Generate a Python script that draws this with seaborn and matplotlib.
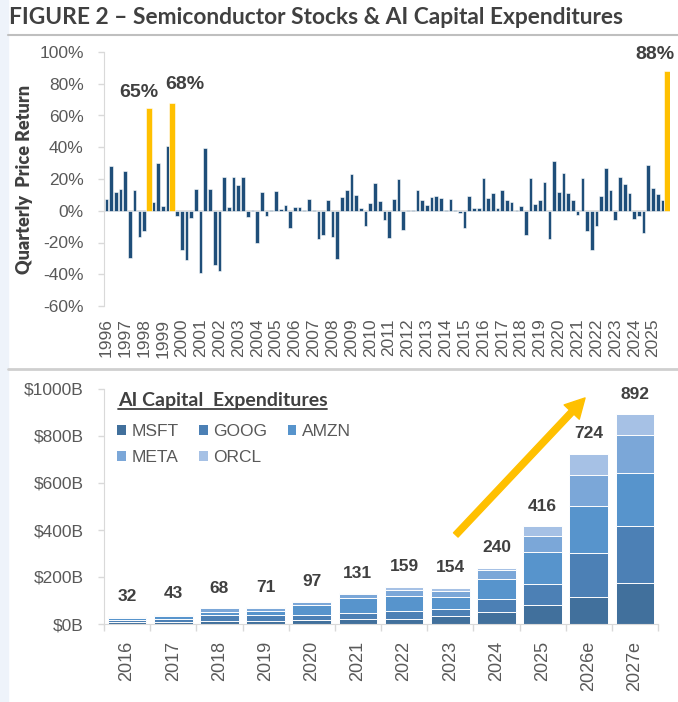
import numpy as np
import pandas as pd
import matplotlib
matplotlib.use("Agg")
import matplotlib.pyplot as plt
import seaborn as sns
from matplotlib.patches import Patch, Rectangle
from matplotlib.lines import Line2D

# ---------------- data ----------------
years = list(range(1996, 2026))
quarter_returns = [
    7.2, 28, 12, 13.7, 25, -30, 13, -16.5, -12.7, 65,
    5.7, 30, 3, 41, 68, -3, -25, -31, -4.6, 14,
    -39, 39.5, 13.7, -34, -38, 21, 2.5, 21, 16.5, 21,
    -3.8, 0.3, -20.5, 12, -3.4, 0.5, 12.7, 1, 3.8, -11,
    2.5, 2.5, 0.2, 7.4, 0.2, -18, -15, 6.8, -16.5, -30.6,
    8.4, 13.3, 23, 10, 1.5, -9.3, 4.6, 17.3, 6, -6,
    -17, 7.4, 20, -12, 0.2, 0.3, 13.3, 6.5, 3.8, 8.4,
    9.3, 7.8, 0.2, 7.4, 0.6, -1.7, -11, 9.3, 1.5, 2,
    20.5, 7.8, 11.4, 2, 12.9, 6.5, 5.3, 0.2, 3.2, -15,
    20.5, 4, 6.8, 18, -18, 31.6, 12, 24, 11.2, 6.5,
    -2.5, 20.5, -12.7, -25, -9.3, 9, 27, 13.3, -6, 21,
    17, 11.2, -5.3, -3.4, -14, 29, 14.6, 10.5, 6.5, 88,
]
highlight_quarters = ["1998Q2", "1999Q3", "2025Q4"]
highlight_labels = ["65%", "68%", "88%"]

capex_years = ["2016", "2017", "2018", "2019", "2020", "2021",
               "2022", "2023", "2024", "2025", "2026e", "2027e"]
companies = ["MSFT", "GOOG", "AMZN", "META", "ORCL"]
msft = [8, 8, 12, 14, 16, 20, 21, 32, 53, 82, 114, 174]
goog = [10, 13, 25, 23, 22, 27, 33, 32, 53, 89, 190, 242]
amzn = [8, 12, 14, 17, 42, 62, 64, 52, 86, 134, 200, 225]
meta = [5, 7, 15, 15, 15, 19, 28, 26, 37, 71, 132, 163]
orcl = [1, 3, 2, 2, 2, 3, 13, 12, 11, 40, 88, 88]
capex_totals = [32, 43, 68, 71, 97, 131, 159, 154, 240, 416, 724, 892]

company_colors = {"MSFT": "#41709C", "GOOG": "#4C80B5", "AMZN": "#5794CC",
                  "META": "#7BA7D8", "ORCL": "#A6C1E5"}

# ---------------- style ----------------
sns.set_style("white")
plt.rcParams["font.family"] = ["Liberation Sans", "DejaVu Sans"]
GRAY_TXT = "#595959"
DARK_TXT = "#404040"
AXIS_GRAY = "#D9D9D9"

fig = plt.figure(figsize=(6.78, 7.02), dpi=100)
W, H = 678, 702

# background decorations
fig.patches.append(Rectangle((0, 0), 8 / W, 1, transform=fig.transFigure,
                             color="#EEF3FA", zorder=0))
fig.lines.append(Line2D([8 / W, 1], [1 - 35 / H, 1 - 35 / H], transform=fig.transFigure,
                        color="#BFBFBF", lw=1.5))
fig.lines.append(Line2D([8 / W, 1], [1 - 369 / H, 1 - 369 / H], transform=fig.transFigure,
                        color="#CFCFCF", lw=2))

fig.text(9 / W, 1 - 18 / H, "FIGURE 2 \u2013 Semiconductor Stocks & AI Capital Expenditures",
         family=["Lato", "DejaVu Sans"], fontweight="bold", fontsize=16.4,
         color=DARK_TXT, va="center", ha="left")

# ---------------- top chart ----------------
ax1 = fig.add_axes([104 / W, 1 - 306 / H, (670 - 104) / W, (306 - 52) / H])
quarters = [f"{y}Q{q}" for y in years for q in range(1, 5)]
df = pd.DataFrame({"quarter": quarters, "ret": quarter_returns})
is_hl = df["quarter"].isin(highlight_quarters)

sns.barplot(data=df[~is_hl], x="quarter", y="ret", order=quarters, color="#1F4E79",
            saturation=1, width=0.78, edgecolor="white", linewidth=0.4,
            errorbar=None, ax=ax1)
sns.barplot(data=df[is_hl], x="quarter", y="ret", order=quarters, color="#FFC000",
            saturation=1, width=1.25, edgecolor="white", linewidth=0.4,
            errorbar=None, ax=ax1)

ax1.axhline(0, color=AXIS_GRAY, lw=1.2, zorder=0.5)
ax1.set_xlim(-0.5, 119.6)
ax1.set_ylim(-60, 100)
ax1.set_yticks(range(-60, 101, 20))
ax1.set_yticklabels([f"{v}%" for v in range(-60, 101, 20)])
ax1.set_xticks(range(0, 120, 4))
ax1.set_xticklabels([str(y) for y in years], rotation=90)
ax1.tick_params(axis="x", length=0, pad=9, labelsize=12.5, colors=GRAY_TXT)
ax1.tick_params(axis="y", length=4.5, width=1, color=AXIS_GRAY, pad=10,
                labelsize=12.5, labelcolor=GRAY_TXT, direction="out", left=True)
for s in ["top", "right", "bottom"]:
    ax1.spines[s].set_visible(False)
ax1.spines["left"].set_color(AXIS_GRAY)
ax1.set_xlabel("")
ax1.set_ylabel("Quarterly  Price Return", family=["Lato", "DejaVu Sans"],
               fontweight="heavy", fontsize=13, color=DARK_TXT)
ax1.yaxis.set_label_coords(-0.125, 0.5)

hl_offsets = [(-7, 5), (9, 7), (-9, 6)]
for q, lab, off in zip(highlight_quarters, highlight_labels, hl_offsets):
    i = quarters.index(q)
    ax1.annotate(lab, xy=(i, quarter_returns[i]), xytext=off, textcoords="offset points",
                 ha="center", va="bottom", fontweight="bold", fontsize=14,
                 color=DARK_TXT)

# ---------------- bottom chart ----------------
ax2 = fig.add_axes([104 / W, 1 - 624 / H, (658 - 104) / W, (624 - 389) / H])
cap = pd.DataFrame({"year": capex_years, "MSFT": msft, "GOOG": goog, "AMZN": amzn,
                    "META": meta, "ORCL": orcl})
cum = cap[companies].cumsum(axis=1)
for comp in reversed(companies):
    sns.barplot(x=cap["year"], y=cum[comp], order=capex_years, color=company_colors[comp],
                saturation=1, width=0.84, edgecolor="white", linewidth=0.7,
                errorbar=None, ax=ax2)

ax2.set_xlim(-0.5, 11.5)
ax2.set_ylim(0, 1000)
ax2.set_yticks(range(0, 1001, 200))
ax2.set_yticklabels([f"${v}B" for v in range(0, 1001, 200)])
ax2.set_xticks(range(len(capex_years)))
ax2.set_xticklabels(capex_years, rotation=90)
ax2.set_xticks(np.arange(-0.5, 12, 1), minor=True)
ax2.tick_params(axis="x", which="major", length=0, pad=12, labelsize=13, colors=GRAY_TXT)
ax2.tick_params(axis="x", which="minor", length=5, width=1, color=AXIS_GRAY, bottom=True)
ax2.tick_params(axis="y", length=4.5, width=1, color=AXIS_GRAY, pad=10,
                labelsize=12.5, labelcolor=GRAY_TXT, left=True)
for s in ["top", "right"]:
    ax2.spines[s].set_visible(False)
ax2.spines["left"].set_color(AXIS_GRAY)
ax2.spines["bottom"].set_color(AXIS_GRAY)
ax2.set_xlabel("")
ax2.set_ylabel("")

for i, tot in enumerate(capex_totals):
    ax2.annotate(f"{tot}", xy=(i, tot), xytext=(0, 9), textcoords="offset points",
                 ha="center", va="bottom", fontweight="bold", fontsize=12.5,
                 color=DARK_TXT)

# growth arrow
ax2.annotate("", xy=(9.92, 962), xytext=(7.12, 379),
             arrowprops=dict(facecolor="#FFC000", edgecolor="#FFC000", width=4.5,
                             headwidth=15, headlength=14, shrink=0))

# legend title (underlined)
t = ax2.text(0.025, 0.953, "AI Capital  Expenditures", transform=ax2.transAxes,
             family=["Lato", "DejaVu Sans"], fontweight="bold", fontsize=14,
             color=DARK_TXT, ha="left", va="center")
fig.canvas.draw()
bb = t.get_window_extent().transformed(fig.transFigure.inverted())
fig.lines.append(Line2D([bb.x0, bb.x1], [bb.y0 - 0.5 / H, bb.y0 - 0.5 / H],
                        transform=fig.transFigure, color=DARK_TXT, lw=1.3))

order = ["MSFT", "META", "GOOG", "ORCL", "AMZN"]
handles = [Patch(facecolor=company_colors[c], edgecolor="none") for c in order]
ax2.legend(handles, order, ncol=3, loc="upper left", bbox_to_anchor=(0.0235, 0.852),
           frameon=False, borderpad=0, borderaxespad=0, handlelength=0.5,
           handleheight=0.5, handletextpad=0.35, columnspacing=1.15, labelspacing=0.65,
           prop={"size": 12.5}, labelcolor=GRAY_TXT)

fig.savefig("out.png", dpi=100)
